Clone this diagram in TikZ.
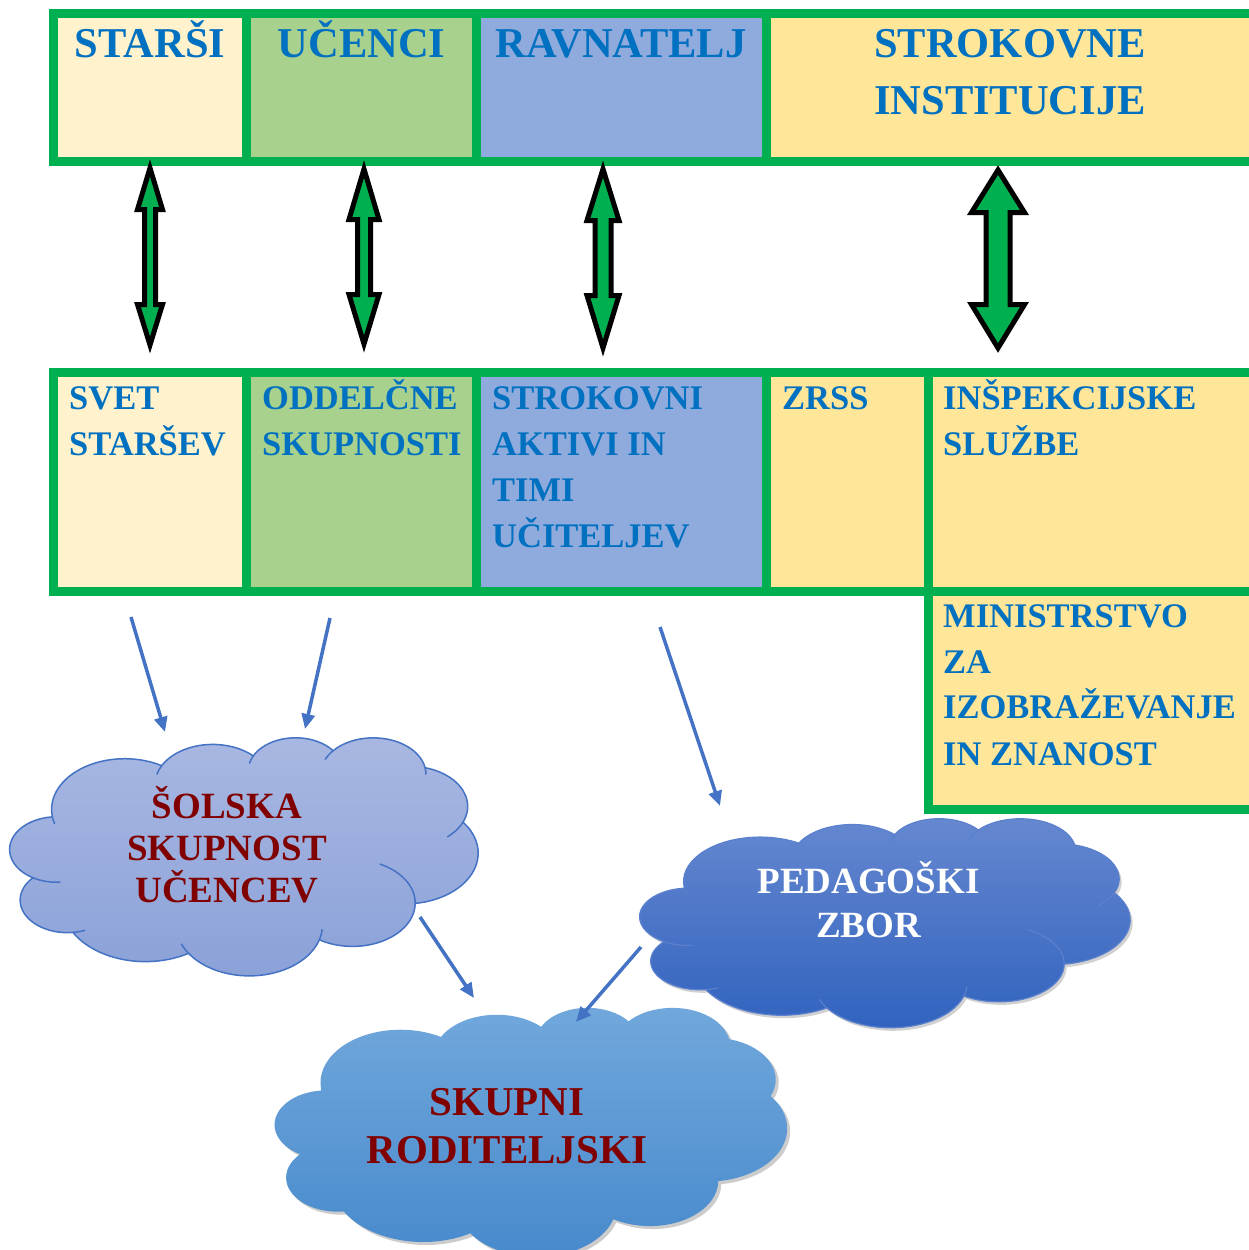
\documentclass[tikz,border=0pt]{standalone}
\usepackage{fontspec}
\setmainfont{Liberation Serif}
\usetikzlibrary{arrows.meta}
\definecolor{grn}{HTML}{00B050}
\definecolor{txtblue}{HTML}{0070C0}
\definecolor{dred}{HTML}{800000}
\definecolor{cYel}{HTML}{FFF2CC}
\definecolor{cGrn}{HTML}{A9D18E}
\definecolor{cBlu}{HTML}{8FAADC}
\definecolor{cGold}{HTML}{FFE699}
\definecolor{lnblue}{HTML}{4472C4}
\definecolor{cOneT}{HTML}{A9B8E2}
\definecolor{cOneB}{HTML}{8AA1D8}
\definecolor{cTwoT}{HTML}{6688D0}
\definecolor{cTwoB}{HTML}{3062BE}
\definecolor{cTwoL}{HTML}{5A80CE}
\definecolor{cThrT}{HTML}{72A8DC}
\definecolor{cThrB}{HTML}{4689CC}

% Office-style cloud arcs (visual angles converted to parametric ones)
\newcommand\oarc[4]{arc[x radius=#1,y radius=#2,start angle={atan2((#1)*sin(#3),(#2)*cos(#3))},delta angle={mod(atan2((#1)*sin((#3)+(#4)),(#2)*cos((#3)+(#4)))-atan2((#1)*sin(#3),(#2)*cos(#3))+720,360)}]}
\newcommand\oext[4]{arc[x radius=#1,y radius=#2,start angle={atan2((#1)*sin(#3),(#2)*cos(#3))},delta angle={mod(atan2((#1)*sin((#3)+(#4)),(#2)*cos((#3)+(#4)))-atan2((#1)*sin(#3),(#2)*cos(#3))+540,360)-180}]}

\newcommand\ocloudpath[1]{(9.028,33.264) coordinate(#1c0)
 \oarc{15.632}{21.273}{-190.4875}{123.7805} coordinate(#1c1)
 \oarc{12.345}{16.822}{-144.1024}{89.9452} coordinate(#1c2)
 \oarc{10.104}{13.762}{-145.8079}{99.7230} coordinate(#1c3)
 \oarc{11.243}{15.266}{-130.9861}{117.2417} coordinate(#1c4)
 \oarc{12.345}{16.836}{-78.7089}{109.0269} coordinate(#1c5)
 \oarc{15.683}{21.343}{-46.2673}{130.2690} coordinate(#1c6)
 \oarc{13.391}{18.211}{0.6250}{114.0333} coordinate(#1c7)
 \oarc{15.630}{21.331}{22.4516}{115.1726} coordinate(#1c8)
 \oarc{17.870}{24.405}{66.2426}{75.7110} coordinate(#1c9)
 \oarc{10.093}{13.699}{-274.9421}{146.7356} coordinate(#1c10)
 \oarc{10.058}{13.762}{-246.8285}{152.5189} -- cycle}

\newcommand\ocloudinner[1]{%
 (#1c10) \oext{10.058}{13.762}{-246.8285}{-26.4}
 (#1c9) \oext{10.093}{13.699}{-274.9421}{-11.4}
 (#1c7) \oext{15.630}{21.331}{22.4516}{-16}
 (#1c8) \oext{15.630}{21.331}{137.6242}{14.1}
 (#1c6) \oext{13.391}{18.211}{0.6250}{-70.9}
 (#1c5) \oext{12.345}{16.836}{30.318}{27.75}
 (#1c4) \oext{11.243}{15.266}{-13.7444}{14.9}
 (#1c3) \oext{11.243}{15.266}{-130.9861}{-18.2}
 (#1c2) \oext{10.104}{13.762}{-145.8079}{-17.7}
 (#1c1) \oext{12.345}{16.822}{-144.1024}{-16.8}
 (#1c0) \oext{15.632}{21.273}{-190.4875}{-12}}

\newcommand\ocloud[7]{%
 \begin{scope}[shift={(#2,#3)}, x=#4, y=#5]
   \path[#6] \ocloudpath{#1};
   \draw[#7] \ocloudinner{#1};
 \end{scope}}

\newcommand\dblarrow[7]{\draw[dblarr] (#1,#2) -- ({#1+#6},#3) -- ({#1+#7},#3) -- ({#1+#7},#4) -- ({#1+#6},#4) -- (#1,#5) -- ({#1-#6},#4) -- ({#1-#7},#4) -- ({#1-#7},#3) -- ({#1-#6},#3) -- cycle;}

\tikzset{
  cell/.style={draw=grn, line width=9pt, inner sep=0pt, outer sep=0pt, anchor=north west},
  toptxt/.style={font=\fontsize{42.5}{50}\selectfont\bfseries, text=txtblue, inner sep=0pt, anchor=base},
  celltxt/.style={font=\fontsize{34.5}{40}\selectfont\bfseries, text=txtblue, inner sep=0pt, anchor=base west},
  cloudtxt/.style={font=\fontsize{37}{42}\selectfont\bfseries, inner sep=0pt, anchor=base},
  dblarr/.style={draw=black, fill=grn, line width=5pt, line join=miter},
  conn/.style={draw=lnblue, line width=3.5pt, -{Triangle[length=15pt,width=13pt]}}
}

\begin{document}
\begin{tikzpicture}[x=1pt, y=-1pt]
\useasboundingbox (0,0) rectangle (1249,1250);
\clip (0,0) rectangle (1249,1250);
\fill[white] (0,0) rectangle (1249,1250);

% top row
\node[cell, fill=cYel, minimum width=193pt, minimum height=148pt] (starsi) at (53.5,13.5) {};
\node[cell, fill=cGrn, minimum width=230pt, minimum height=148pt] (ucenci) at (246.5,13.5) {};
\node[cell, fill=cBlu, minimum width=289.5pt, minimum height=148pt] (ravn) at (476.5,13.5) {};
\node[cell, fill=cGold, minimum width=500pt, minimum height=148pt] (strok) at (766,13.5) {};

\node[toptxt] (tStarsi) at (150,57) {STARŠI};
\node[toptxt] (tUcenci) at (361.5,57) {UČENCI};
\node[toptxt] (tRavn) at (621,57) {RAVNATELJ};
\node[toptxt] (tStrokA) at (1010,57) {STROKOVNE};
\node[toptxt] (tStrokB) at (1010,114) {INSTITUCIJE};

% bottom row
\node[cell, fill=cYel, minimum width=193pt, minimum height=219pt] (svet) at (53.5,372.5) {};
\node[cell, fill=cGrn, minimum width=230pt, minimum height=219pt] (odd) at (246.5,372.5) {};
\node[cell, fill=cBlu, minimum width=289.5pt, minimum height=219pt] (aktivi) at (476.5,372.5) {};
\node[cell, fill=cGold, minimum width=162pt, minimum height=219pt] (zrss) at (766,372.5) {};
\node[cell, fill=cGold, minimum width=340pt, minimum height=219pt] (insp) at (928,372.5) {};
\node[cell, fill=cGold, minimum width=340pt, minimum height=217.5pt] (mins) at (928,591.5) {};

\node[celltxt] (tSvetA) at (69,409) {SVET};
\node[celltxt] (tSvetB) at (69,455) {STARŠEV};
\node[celltxt] (tOddA) at (262,409) {ODDELČNE};
\node[celltxt] (tOddB) at (262,455) {SKUPNOSTI};
\node[celltxt] (tAktA) at (492,409) {STROKOVNI};
\node[celltxt] (tAktB) at (492,455) {AKTIVI IN};
\node[celltxt] (tAktC) at (492,501) {TIMI};
\node[celltxt] (tAktD) at (492,547) {UČITELJEV};
\node[celltxt] (tZrss) at (782,409) {ZRSS};
\node[celltxt] (tInspA) at (943,409) {INŠPEKCIJSKE};
\node[celltxt] (tInspB) at (943,455) {SLUŽBE};
\node[celltxt] (tMinA) at (943,627) {MINISTRSTVO};
\node[celltxt] (tMinB) at (943,673) {ZA};
\node[celltxt] (tMinC) at (943,718) {IZOBRAŽEVANJE};
\node[celltxt] (tMinD) at (943,765) {IN ZNANOST};

% double block arrows
\dblarrow{150}{168}{209.5}{304.5}{345}{12.5}{5.5}
\dblarrow{364}{169}{219.5}{294.5}{344}{15}{6.5}
\dblarrow{603}{169}{220.5}{295.5}{348}{16}{8}
\dblarrow{998}{170}{212.5}{304.5}{348}{26.5}{12}

% clouds
\ocloud{ca}{10}{737}{4.68pt}{-2.38pt}{top color=cOneT, bottom color=cOneB, draw=lnblue, line width=1.5pt}{draw=lnblue, line width=1.5pt}
\ocloud{cb}{640}{818}{4.90pt}{-2.09pt}{preaction={fill=black, fill opacity=0.18, transform canvas={xshift=2.5pt, yshift=-3pt}}, top color=cTwoT, bottom color=cTwoB, draw=cTwoL, line width=1.2pt}{draw=cTwoL, line width=1.2pt}
\ocloud{cc}{275}{1007}{5.12pt}{-2.49pt}{preaction={fill=black, fill opacity=0.2, transform canvas={xshift=3pt, yshift=-3pt}}, top color=cThrT, bottom color=cThrB}{draw=none}

\node[cloudtxt, text=dred] (tSolA) at (227,818) {ŠOLSKA};
\node[cloudtxt, text=dred] (tSolB) at (227,860) {SKUPNOST};
\node[cloudtxt, text=dred] (tSolC) at (227,902) {UČENCEV};
\node[cloudtxt, text=white] (tPedA) at (868.5,893) {PEDAGOŠKI};
\node[cloudtxt, text=white] (tPedB) at (868.5,937) {ZBOR};
\node[cloudtxt, text=dred, font=\fontsize{41}{46}\selectfont\bfseries] (tSkuA) at (507,1115) {SKUPNI};
\node[cloudtxt, text=dred, font=\fontsize{41}{46}\selectfont\bfseries] (tSkuB) at (507,1163) {RODITELJSKI};

% thin blue connectors
\coordinate (bAs) at (131,617); \coordinate (bAe) at (165,732);
\coordinate (bBs) at (330,618); \coordinate (bBe) at (305,729);
\coordinate (bCs) at (660,627); \coordinate (bCe) at (720,806);
\coordinate (bDs) at (420,917); \coordinate (bDe) at (474,998);
\coordinate (bEs) at (641,947); \coordinate (bEe) at (576,1022);
\draw[conn] (bAs) -- (bAe);
\draw[conn] (bBs) -- (bBe);
\draw[conn] (bCs) -- (bCe);
\draw[conn] (bDs) -- (bDe);
\draw[conn] (bEs) -- (bEe);
\end{tikzpicture}
\end{document}
